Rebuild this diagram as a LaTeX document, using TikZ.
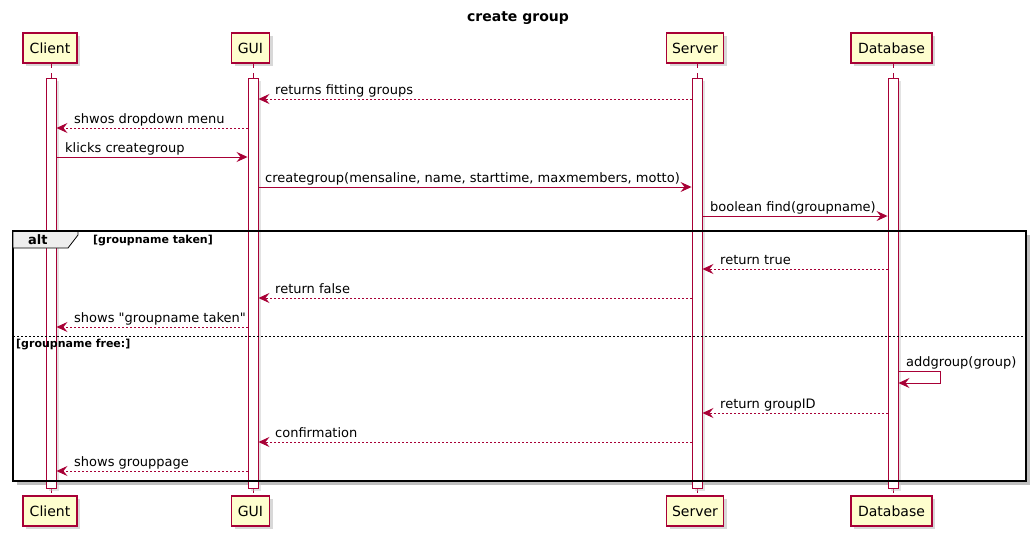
\documentclass[tikz,border=0pt]{standalone}
\usepackage{fontspec}
\setmainfont{DejaVu Sans}
\usetikzlibrary{arrows.meta,shadows}
\definecolor{pborder}{HTML}{A80036}
\definecolor{pfill}{HTML}{FEFECE}
\definecolor{tabfill}{HTML}{EEEEEE}
\tikzset{
  part/.style={draw=pborder, fill=pfill, line width=1.4pt, minimum height=30pt, inner sep=0pt,
    font=\fontsize{14}{16}\selectfont, drop shadow={shadow xshift=3pt, shadow yshift=-3pt, fill=black!30}},
  actbar/.style={draw=pborder, fill=white, line width=0.9pt, minimum width=10pt, minimum height=410pt, inner sep=0pt,
    drop shadow={shadow xshift=3pt, shadow yshift=-3pt, fill=black!22}},
  lifeline/.style={draw=pborder, line width=0.8pt, dash pattern=on 5pt off 5pt},
  msg/.style={draw=pborder, line width=0.9pt, -{Stealth[length=11pt,width=10pt,inset=4pt]}},
  ret/.style={msg, dash pattern=on 2pt off 2pt},
  lbl/.style={font=\fontsize{13}{15}\selectfont, inner sep=0pt},
  cond/.style={font=\bfseries\fontsize{11}{13}\selectfont, inner sep=0pt},
  ttl/.style={font=\bfseries\fontsize{14}{16}\selectfont, inner sep=0pt}
}
\begin{document}
\begin{tikzpicture}[x=1pt,y=-1pt]
\useasboundingbox (0,0) rectangle (1036,536);
\node[ttl] (title) at (518,18) {create group};
% frame shadow
\fill[black!25] (1026,235) rectangle (1030,485);
\fill[black!25] (17,481) rectangle (1030,485);
% participants
\node[part, minimum width=54pt] (cT) at (50,48) {Client};
\node[part, minimum width=38pt] (gT) at (250.5,48) {GUI};
\node[part, minimum width=57pt] (sT) at (695,48) {Server};
\node[part, minimum width=81pt] (dT) at (891.5,48) {Database};
\node[part, minimum width=54pt] (cB) at (50,511) {Client};
\node[part, minimum width=38pt] (gB) at (250.5,511) {GUI};
\node[part, minimum width=57pt] (sB) at (695,511) {Server};
\node[part, minimum width=81pt] (dB) at (891.5,511) {Database};
% lifeline stubs
\foreach \x in {51,253,697,893}{
  \draw[lifeline] (\x,63) -- (\x,78);
  \draw[lifeline] (\x,488) -- (\x,496);
}
% activation bars
\node[actbar] (cBar) at (51,283) {};
\node[actbar] (gBar) at (253,283) {};
\node[actbar] (sBar) at (697,283) {};
\node[actbar] (dBar) at (893,283) {};
% alt frame
\draw[black, line width=2pt] (13,231) rectangle (1026,481);
\draw[black, line width=0.8pt, fill=tabfill] (13,231) -- (78,231) -- (78,235) -- (68,248) -- (13,248) -- cycle;
\draw[black, line width=2pt] (13,231) -- (1026,231);
\node[font=\bfseries\fontsize{13}{15}\selectfont, inner sep=0pt, anchor=base west] (altlbl) at (28,244) {alt};
\node[cond, anchor=base west] (c1) at (93,243) {[groupname taken]};
\draw[black, line width=0.8pt, dash pattern=on 2pt off 2pt] (13,336) -- (1026,336);
\node[cond, anchor=base west] (c2) at (16,347) {[groupname free:]};
% messages
\draw[ret] (sBar.west |- 0,99) -- (gBar.east |- 0,99);
\node[lbl, anchor=base west] (l1) at (275,94) {returns fitting groups};
\draw[ret] (gBar.west |- 0,128) -- (cBar.east |- 0,128);
\node[lbl, anchor=base west] (l2) at (74,123) {shwos dropdown menu};
\draw[msg] (cBar.east |- 0,157) -- (gBar.west |- 0,157);
\node[lbl, anchor=base west] (l3) at (65,152) {klicks creategroup};
\draw[msg] (gBar.east |- 0,187) -- (sBar.west |- 0,187);
\node[lbl, anchor=base west] (l4) at (265,182) {creategroup(mensaline, name, starttime, maxmembers, motto)};
\draw[msg] (sBar.east |- 0,216) -- (dBar.west |- 0,216);
\node[lbl, anchor=base west] (l5) at (710,211) {boolean find(groupname)};
\draw[ret] (dBar.west |- 0,269) -- (sBar.east |- 0,269);
\node[lbl, anchor=base west] (l6) at (720,264) {return true};
\draw[ret] (sBar.west |- 0,298) -- (gBar.east |- 0,298);
\node[lbl, anchor=base west] (l7) at (275,293) {return false};
\draw[ret] (gBar.west |- 0,327) -- (cBar.east |- 0,327);
\node[lbl, anchor=base west] (l8) at (74,322) {shows \textquotedbl groupname taken\textquotedbl};
\coordinate (selfR) at (940,371);
\draw[msg] (dBar.east |- 0,371) -- (selfR) -- (940,383) -- (dBar.east |- 0,383);
\node[lbl, anchor=base west] (l9) at (906,366) {addgroup(group)};
\draw[ret] (dBar.west |- 0,413) -- (sBar.east |- 0,413);
\node[lbl, anchor=base west] (l10) at (720,408) {return groupID};
\draw[ret] (sBar.west |- 0,442) -- (gBar.east |- 0,442);
\node[lbl, anchor=base west] (l11) at (275,437) {confirmation};
\draw[ret] (gBar.west |- 0,471) -- (cBar.east |- 0,471);
\node[lbl, anchor=base west] (l12) at (74,466) {shows grouppage};
\end{tikzpicture}
\end{document}
